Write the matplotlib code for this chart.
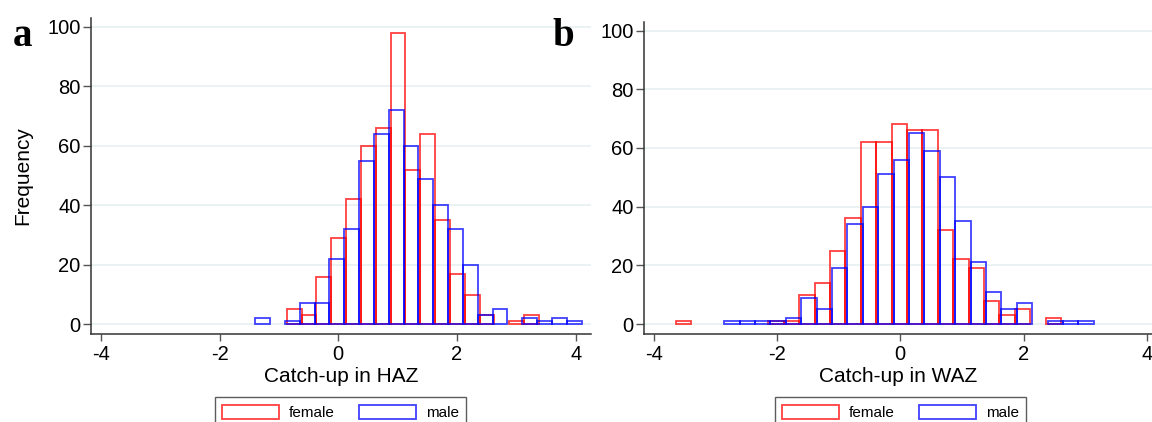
############################################################################################
import numpy as np
import matplotlib
import matplotlib.pyplot as plt
from matplotlib.patches import Patch
matplotlib.use('Agg')

############################################################################################
# Histogram counts (bin width 0.25, first bin left edge given)
bin_width     = 0.25
haz_female_x0 = -0.87
haz_female    = [5, 3, 16, 29, 42, 60, 66, 98, 52, 64, 35, 17, 10, 3, 0, 1, 3]
haz_male_x0   = -1.40
haz_male      = [2, 0, 1, 7, 7, 22, 32, 55, 64, 72, 60, 49, 40, 32, 20, 3, 5, 0, 2, 1, 2, 1]
waz_female_x0 = -3.64
waz_female    = [1, 0, 0, 0, 0, 0, 1, 1, 10, 14, 25, 36, 62, 62, 68, 66, 66, 32, 22, 19, 8, 3, 5, 0, 2]
waz_male_x0   = -2.86
waz_male      = [1, 1, 1, 1, 2, 9, 5, 19, 34, 40, 51, 56, 65, 59, 50, 35, 21, 11, 5, 7, 0, 1, 1, 1]
x_ticks       = [-4, -2, 0, 2, 4]
y_ticks       = [0, 20, 40, 60, 80, 100]
series_labels = ['female', 'male']

############################################################################################
plt.rcParams['font.family'] = ['Liberation Sans', 'DejaVu Sans']
plt.rcParams['axes.unicode_minus'] = False
RED  = (1, 0, 0, 0.75)
BLUE = (0, 0, 1, 0.75)
W, H = 1152, 422

def px_axes(fig, x0, x1, ytop, ybot):
    # axes from pixel box
    return fig.add_axes([x0 / W, 1 - ybot / H, (x1 - x0) / W, (ybot - ytop) / H])

def hist_bars(ax, x0, counts, color):
    counts = np.asarray(counts)
    edges  = x0 + bin_width * np.arange(len(counts))
    keep   = counts > 0   # empty bins are not drawn
    ax.bar(edges[keep], counts[keep], width=bin_width, align='edge', fill=False, edgecolor=color, linewidth=1.3, zorder=3)

def style_axes(ax, xlim, ylim, xlabel):
    ax.set_xlim(*xlim)
    ax.set_ylim(*ylim)
    ax.set_xticks(x_ticks)
    ax.set_yticks(y_ticks)
    for s in ['top', 'right']: ax.spines[s].set_visible(False)
    for s in ['left', 'bottom']:
        ax.spines[s].set_color('#333333')
        ax.spines[s].set_linewidth(1.1)
    ax.tick_params(axis='both', direction='out', color='#555555', labelsize=14.5, width=1.0)
    ax.tick_params(axis='y', length=6, pad=1.5)
    ax.tick_params(axis='x', length=5, pad=3)
    ax.yaxis.grid(True, color='#e8f0f2', linewidth=1.2, zorder=0)
    ax.set_axisbelow(True)
    ax.set_xlabel(xlabel, fontsize=15, labelpad=2)

############################################################################################
fig = plt.figure(figsize=(W / 100, H / 100), dpi=100)

# Panel a
ax_a = px_axes(fig, 91, 590.7, 18, 334)
hist_bars(ax_a, haz_female_x0, haz_female, RED)
hist_bars(ax_a, haz_male_x0, haz_male, BLUE)
style_axes(ax_a, (-4.167, 4.253), (-3.26, 103), 'Catch-up in HAZ')
ax_a.set_ylabel('Frequency', fontsize=15, labelpad=11)

# Panel b
ax_b = px_axes(fig, 644, 1152, 21.7, 334.3)
hist_bars(ax_b, waz_female_x0, waz_female, RED)
hist_bars(ax_b, waz_male_x0, waz_male, BLUE)
style_axes(ax_b, (-4.161, 4.086), (-3.5, 103), 'Catch-up in WAZ')

# panel letters
fig.text(13 / W, 1 - 46 / H, 'a', fontsize=28, fontweight='bold', family='Liberation Serif')
fig.text(552 / W, 1 - 46 / H, 'b', fontsize=28, fontweight='bold', family='Liberation Serif')

############################################################################################
# Legends (cut at the bottom of the figure like the original)
handles = [Patch(fill=False, edgecolor=RED, linewidth=1.3), Patch(fill=False, edgecolor=BLUE, linewidth=1.3)]
for cx in [340.5 / W, 900.5 / W]:
    leg = fig.legend(handles, series_labels, loc='upper center', bbox_to_anchor=(cx, 1 - 397 / H), ncol=2,
                     fontsize=11, frameon=True, fancybox=False, handlelength=3.7, handleheight=1.1,
                     handletextpad=0.65, columnspacing=1.6, borderpad=0.5, borderaxespad=0)
    leg.get_frame().set_edgecolor('#333333')
    leg.get_frame().set_linewidth(1.0)

fig.savefig('out.png', dpi=100)
